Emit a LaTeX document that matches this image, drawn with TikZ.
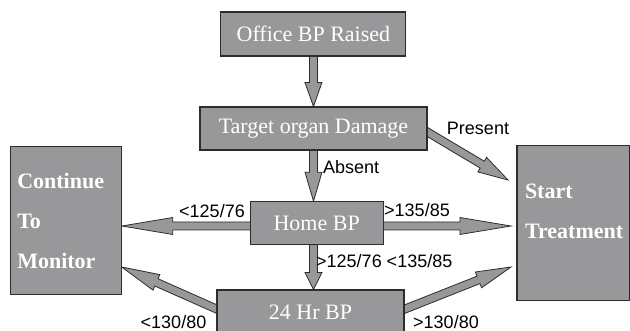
\documentclass[tikz,border=0pt]{standalone}
\usepackage{fontspec}
\setmainfont{Liberation Serif}
\setsansfont{Liberation Sans}
\usetikzlibrary{calc,positioning}

\pgfdeclarelayer{back}
\pgfsetlayers{back,main}

\definecolor{boxgray}{RGB}{152,152,154}
\definecolor{edgegray}{RGB}{45,45,45}

% block arrow from #2 to #3, head length #1
\newcommand\blockarrow[3][26pt]{%
  \path ($(#3)!#1!(#2)$) coordinate (hb);
  \filldraw[blockarr] ($(#2)!4pt!90:(#3)$) -- ($(hb)!4pt!90:(#3)$) -- ($(hb)!8.5pt!90:(#3)$) -- (#3)
    -- ($(hb)!8.5pt!-90:(#3)$) -- ($(hb)!4pt!-90:(#3)$) -- ($(#2)!4pt!-90:(#3)$) -- cycle;}

\begin{document}
\begin{tikzpicture}[x=1pt,y=-1pt,
    box/.style={draw=edgegray,line width=1.1pt,fill=boxgray,text=white,inner sep=0pt,font=\fontsize{22}{26}\selectfont},
    sidebox/.style={box,align=left,inner xsep=7pt,font=\fontsize{22}{40}\selectfont\bfseries},
    lbl/.style={font=\sffamily\fontsize{18}{20}\selectfont,inner sep=0pt},
    blockarr/.style={fill=boxgray,draw=edgegray,line width=0.8pt,line join=miter}]
    \useasboundingbox (0,0) rectangle (630,331);

    \node[box,minimum width=185,minimum height=44] (office) at (313.4,34) {Office BP Raised};
    \node[box,minimum width=227,minimum height=43] (target) at (313.5,128.5) {Target organ Damage};
    \node[box,minimum width=133,minimum height=42.5] (home) at (316.7,223) {Home BP};
    \node[box,minimum width=187,minimum height=44] (hr) at (310.5,312) {24 Hr BP};
    \node[sidebox,minimum width=111.5,minimum height=148,text width=97.5] (monitor) at (66,220.5) {Continue\\To\\Monitor};
    \node[sidebox,minimum width=113,minimum height=155,text width=97,inner xsep=8pt,text depth=65pt] (start) at (573.5,223.4) {Start\\Treatment};

    \coordinate (tdn) at (target.south |- home.north);
    \coordinate (hdn) at (target.south |- home.south);
    \coordinate (rup) at (target.south |- hr.north);
    \coordinate (tin) at ([xshift=-6pt]target.east);
    \coordinate (ptip) at (508,180);
    \coordinate (hl) at (254,226);
    \coordinate (hrt) at (379,226);
    \coordinate (ctip) at (121.7,226);
    \coordinate (stip) at (511,226);
    \coordinate (bl) at (221,311);
    \coordinate (br) at (400,311);
    \coordinate (ctip2) at (121.7,267);
    \coordinate (stip2) at (511,267);

    \begin{pgfonlayer}{back}
    \blockarrow[24pt]{office.south}{target.north}
    \blockarrow[29pt]{target.south}{tdn}
    \blockarrow[17pt]{hdn}{rup}
    \blockarrow[30pt]{tin}{ptip}
    \blockarrow[51pt]{hl}{ctip}
    \blockarrow[51pt]{hrt}{stip}
    \blockarrow[38pt]{bl}{ctip2}
    \blockarrow[35pt]{br}{stip2}
    \end{pgfonlayer}

    \node[lbl] (present) at (478,128) {Present};
    \node[lbl,anchor=west] (absent) at (323,167) {Absent};
    \node[lbl] (lo1) at (212,211) {<125/76};
    \node[lbl] (hi1) at (417,210) {>135/85};
    \node[lbl,anchor=west] (mid) at (316,261) {>125/76 <135/85};
    \node[lbl] (lo2) at (173.5,322) {<130/80};
    \node[lbl] (hi2) at (446,322) {>130/80};
\end{tikzpicture}
\end{document}
